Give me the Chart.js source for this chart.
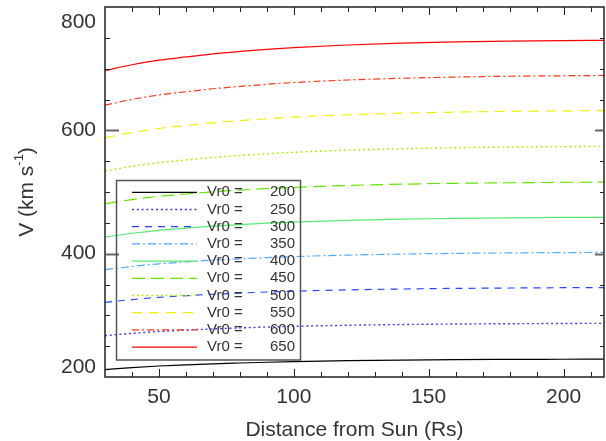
<!DOCTYPE html>
<html>
<head>
<meta charset="utf-8">
<script src="https://cdn.jsdelivr.net/npm/chart.js@4.4.1/dist/chart.umd.min.js"></script>
<style>
html,body{margin:0;padding:0;background:#fff;}
canvas{display:block;}
</style>
</head>
<body>
<canvas id="c" width="606" height="441"></canvas>
<script>
// ---- data ----
const distance = [30, 40, 50, 60, 70, 80, 90, 100, 120, 140, 160, 180, 200, 215];
const vr0Values = [200, 250, 300, 350, 400, 450, 500, 550, 600, 650];
const v200 = [212, 215.2, 217.8, 219.7, 221.4, 222.7, 223.9, 224.9, 226.4, 227.4, 228.1, 228.5, 228.8, 229];
const v250 = [267, 270.8, 273.8, 276, 278, 279.6, 281, 282.2, 283.9, 285.1, 285.9, 286.4, 286.8, 287];
const v300 = [321, 325.6, 329.2, 331.8, 334.2, 336.1, 337.8, 339.2, 341.3, 342.7, 343.7, 344.3, 344.8, 345];
const v350 = [374, 379.3, 383.5, 386.6, 389.4, 391.6, 393.6, 395.3, 397.7, 399.3, 400.5, 401.2, 401.7, 402];
const v400 = [427, 433.1, 437.9, 441.4, 444.6, 447.2, 449.4, 451.3, 454, 456, 457.2, 458.1, 458.7, 459];
const v450 = [481, 487.7, 492.9, 496.8, 500.3, 503.1, 505.5, 507.6, 510.6, 512.7, 514.1, 515, 515.7, 516];
const v500 = [534, 541.6, 547.6, 552, 556, 559.2, 562, 564.4, 567.8, 570.2, 571.8, 572.9, 573.6, 574];
const v550 = [588, 596.4, 603, 607.8, 612.2, 615.7, 618.8, 621.4, 625.2, 627.8, 629.6, 630.8, 631.6, 632];
const v600 = [641, 650.1, 657.3, 662.6, 667.4, 671.2, 674.6, 677.5, 681.6, 684.4, 686.4, 687.7, 688.5, 689];
const v650 = [697, 706.3, 713.7, 719, 724, 727.9, 731.3, 734.2, 738.4, 741.3, 743.3, 744.6, 745.5, 746];
const xTickLabels = ['50', '100', '150', '200'];
const yTickLabels = ['200', '400', '600', '800'];
const xTitle = 'Distance from Sun (Rs)';
const legendPrefix = 'Vr0 =';

// ---- styles ----
const seriesList = [v200, v250, v300, v350, v400, v450, v500, v550, v600, v650];
const colors = ['#000000', 'rgb(75,50,240)', 'rgb(35,70,255)', 'rgb(80,170,255)', 'rgb(85,235,115)',
                'rgb(100,230,0)', 'rgb(170,240,0)', 'rgb(240,240,0)', 'rgb(255,55,20)', 'rgb(255,0,0)'];
const dashes = [[], [2, 2.8], [7, 6], [8, 3, 2, 3], [], [13, 6], [2, 2.8], [10, 7], [7, 3, 2, 3], []];
const widths = [1.2, 1.4, 1.2, 1.2, 1.2, 1.2, 1.4, 1.2, 1.2, 1.2];

const datasets = seriesList.map((s, i) => ({
  label: legendPrefix + ' ' + vr0Values[i],
  vr0: vr0Values[i],
  data: distance.map((d, j) => ({x: d, y: s[j]})),
  borderColor: colors[i],
  borderDash: dashes[i],
  borderWidth: widths[i],
  pointRadius: 0,
  cubicInterpolationMode: 'monotone',
  fill: false
}));

const FONT = "'Liberation Sans', Arial, Helvetica, sans-serif";
const TEXT = '#333333';

const idlPlugin = {
  id: 'idlFrame',
  afterDatasetsDraw(chart) {
    const {ctx, chartArea: a, scales: {x, y}} = chart;
    ctx.save();
    const seg = (x1, y1, x2, y2) => { ctx.beginPath(); ctx.moveTo(x1, y1); ctx.lineTo(x2, y2); ctx.stroke(); };
    // frame
    ctx.strokeStyle = '#222';
    ctx.lineWidth = 1.5;
    ctx.strokeRect(a.left, a.top, a.right - a.left, a.bottom - a.top);
    // x ticks (inward, all sides)
    ctx.lineWidth = 1;
    for (let v = 40; v <= 210; v += 10) {
      const px = Math.round(x.getPixelForValue(v)) + 0.5;
      const len = v % 50 === 0 ? 8 : 5;
      seg(px, a.bottom, px, a.bottom - len);
      seg(px, a.top, px, a.top + len);
    }
    for (let v = 250; v <= 750; v += 50) {
      const py = Math.round(y.getPixelForValue(v)) + 0.5;
      const major = v % 200 === 0;
      ctx.lineWidth = major ? 2 : 1;
      ctx.strokeStyle = major ? '#666' : '#222';
      const len = major ? 14 : 5;
      seg(a.left, py, a.left + len, py);
      seg(a.right, py, a.right - (major ? 9 : 4), py);
    }
    // y tick labels (IDL style, end labels pulled inside)
    ctx.fillStyle = TEXT;
    ctx.font = '21px ' + FONT;
    ctx.textAlign = 'right';
    ctx.textBaseline = 'middle';
    yTickLabels.forEach(t => {
      let py = y.getPixelForValue(Number(t));
      py = Math.min(Math.max(py, a.top + 15.5), a.bottom - 9.5);
      ctx.fillText(t, a.left - 9, py);
    });
    // y title with superscript
    const cy = (a.top + a.bottom) / 2;
    ctx.translate(33, cy);
    ctx.rotate(-Math.PI / 2);
    ctx.textAlign = 'left';
    ctx.textBaseline = 'alphabetic';
    const f1 = '21px ' + FONT, f2 = '13px ' + FONT;
    ctx.font = f1; const w1 = ctx.measureText('V (km s').width; const w3 = ctx.measureText(')').width;
    ctx.font = f2; const w2 = ctx.measureText('-1').width;
    let sx = -(w1 + w2 + w3) / 2;
    ctx.font = f1; ctx.fillText('V (km s', sx, 0); sx += w1;
    ctx.font = f2; ctx.fillText('-1', sx, -10); sx += w2;
    ctx.font = f1; ctx.fillText(')', sx, 0);
    ctx.restore();

    // legend box
    ctx.save();
    ctx.strokeStyle = '#555';
    ctx.lineWidth = 1.5;
    ctx.strokeRect(116.5, 180.5, 184, 179.5);
    ctx.font = '15px ' + FONT;
    ctx.fillStyle = TEXT;
    ctx.textBaseline = 'middle';
    chart.data.datasets.forEach((ds, i) => {
      const ly = 192.3 + i * 17.2;
      ctx.strokeStyle = ds.borderColor;
      ctx.lineWidth = ds.borderWidth;
      ctx.setLineDash(ds.borderDash);
      seg(132, ly, 197, ly);
      ctx.setLineDash([]);
      ctx.textAlign = 'left';
      ctx.fillText(legendPrefix, 207, ly);
      ctx.textAlign = 'right';
      ctx.fillText(String(ds.vr0), 295, ly);
    });
    ctx.restore();
  }
};

new Chart(document.getElementById('c'), {
  type: 'line',
  data: {datasets},
  plugins: [idlPlugin],
  options: {
    responsive: false,
    animation: false,
    events: [],
    layout: {padding: {top: 7, right: 2, left: 0, bottom: 0}},
    plugins: {legend: {display: false}, tooltip: {enabled: false}},
    scales: {
      x: {
        type: 'linear',
        min: 30, max: 215,
        afterBuildTicks: s => { s.ticks = xTickLabels.map(t => ({value: Number(t)})); },
        afterFit: s => { s.height = 64; },
        grid: {display: false, drawTicks: false},
        border: {display: false},
        ticks: {color: TEXT, font: {family: FONT, size: 21, lineHeight: 1.2}, padding: 8, maxRotation: 0, autoSkip: false},
        title: {display: true, text: xTitle, color: TEXT, font: {family: FONT, size: 21, lineHeight: 1}, padding: {top: 0, bottom: 0}}
      },
      y: {
        type: 'linear',
        min: 200, max: 800,
        afterBuildTicks: s => { s.ticks = yTickLabels.map(t => ({value: Number(t)})); },
        afterFit: s => { s.width = 105; },
        grid: {display: false, drawTicks: false},
        border: {display: false},
        ticks: {display: false}
      }
    }
  }
});
</script>
</body>
</html>
